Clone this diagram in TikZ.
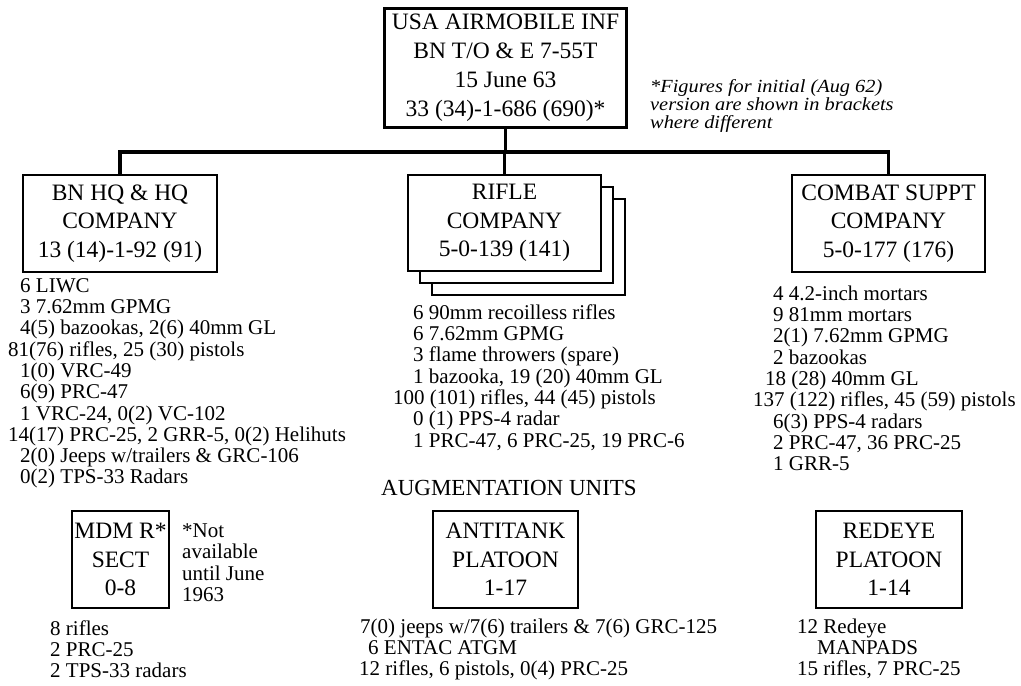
\documentclass[tikz,border=0pt]{standalone}
\usepackage{graphicx}
\usepackage{fontspec}
\setmainfont{Liberation Serif}
\begin{document}
\begin{tikzpicture}[x=1pt,y=-1pt,
  box/.style={draw, line width=2.6pt, inner sep=0pt, align=center, fill=white,
    font=\fontsize{23.5}{28.5}\selectfont},
  conn/.style={line width=3.6pt},
  list/.style={anchor=north west, inner sep=0pt, align=left,
    font=\fontsize{21}{21.3}\selectfont},
]
\useasboundingbox (0,0) rectangle (1021,686);

% top box
\node[box, minimum width=242pt, minimum height=119pt,
  font=\fontsize{23.5}{29}\selectfont] (top) at (505.5,68)
  {USA AIRMOBILE INF\\BN T/O \& E 7-55T\\15 June 63\\33 (34)-1-686 (690)*};

\node[anchor=north west, inner sep=0pt, align=left,
  font=\fontsize{18.5}{18}\selectfont\itshape] (note) at (650,79)
  {\rule{0pt}{13pt}\scalebox{1.1}[1]{*Figures for initial (Aug 62)}\\
   \scalebox{1.1}[1]{version are shown in brackets}\\
   \scalebox{1.1}[1]{where different}};

% companies
\node[box, minimum width=194pt, minimum height=97pt] (hq) at (120,223.5)
  {BN HQ \& HQ\\COMPANY\\13 (14)-1-92 (91)};
\node[box, minimum width=193pt, minimum height=96pt] (rifle3) at (528.5,247) {};
\node[box, minimum width=193pt, minimum height=96pt] (rifle2) at (516.5,235) {};
\node[box, minimum width=193pt, minimum height=96pt] (rifle) at (504.5,223)
  {RIFLE\\COMPANY\\5-0-139 (141)};
\node[box, minimum width=193pt, minimum height=97pt] (cs) at (888.5,223.5)
  {COMBAT SUPPT\\COMPANY\\5-0-177 (176)};

% connectors
\coordinate (bus) at (504.5,152);
\draw[conn] (top.south) -- (top.south |- bus);
\draw[conn] (hq.north) |- (bus) -| (cs.north);
\draw[conn] (bus) -- (rifle.north);

% lists
\node[list] (hqlist) at (8,277)
  {\rule{0pt}{15pt}\hspace*{12pt}6 LIWC\\
   \hspace*{12pt}3 7.62mm GPMG\\
   \hspace*{12pt}4(5) bazookas, 2(6) 40mm GL\\
   81(76) rifles, 25 (30) pistols\\
   \hspace*{12pt}1(0) VRC-49\\
   \hspace*{12pt}6(9) PRC-47\\
   \hspace*{12pt}1 VRC-24, 0(2) VC-102\\
   14(17) PRC-25, 2 GRR-5, 0(2) Helihuts\\
   \hspace*{12pt}2(0) Jeeps w/trailers \& GRC-106\\
   \hspace*{12pt}0(2) TPS-33 Radars};

\node[list] (riflelist) at (393,304)
  {\rule{0pt}{15pt}\hspace*{20pt}6 90mm recoilless rifles\\
   \hspace*{20pt}6 7.62mm GPMG\\
   \hspace*{20pt}3 flame throwers (spare)\\
   \hspace*{20pt}1 bazooka, 19 (20) 40mm GL\\
   100 (101) rifles, 44 (45) pistols\\
   \hspace*{20pt}0 (1) PPS-4 radar\\
   \hspace*{20pt}1 PRC-47, 6 PRC-25, 19 PRC-6};

\node[list] (cslist) at (753,285)
  {\rule{0pt}{15pt}\hspace*{20pt}4 4.2-inch mortars\\
   \hspace*{20pt}9 81mm mortars\\
   \hspace*{20pt}2(1) 7.62mm GPMG\\
   \hspace*{20pt}2 bazookas\\
   \hspace*{12pt}18 (28) 40mm GL\\
   137 (122) rifles, 45 (59) pistols\\
   \hspace*{20pt}6(3) PPS-4 radars\\
   \hspace*{20pt}2 PRC-47, 36 PRC-25\\
   \hspace*{20pt}1 GRR-5};

% augmentation
\node[anchor=base, inner sep=0pt, font=\fontsize{23}{27}\selectfont] (aug) at (509,495)
  {AUGMENTATION UNITS};

\node[box, minimum width=97pt, minimum height=97pt] (mdm) at (120.5,559.5)
  {MDM R*\\SECT\\0-8};
\node[list, font=\fontsize{21}{21.5}\selectfont] (mdmnote) at (182,522)
  {\rule{0pt}{15pt}*Not\\available\\until June\\1963};
\node[box, minimum width=145pt, minimum height=97pt] (at) at (505.5,559.5)
  {ANTITANK\\PLATOON\\1-17};
\node[box, minimum width=146pt, minimum height=97pt] (red) at (889,559.5)
  {REDEYE\\PLATOON\\1-14};

\node[list] (mdmlist) at (50,620)
  {\rule{0pt}{15pt}8 rifles\\2 PRC-25\\2 TPS-33 radars};
\node[list, font=\fontsize{21}{21}\selectfont] (atlist) at (359,618)
  {\rule{0pt}{15pt}\hspace*{1pt}7(0) jeeps w/7(6) trailers \& 7(6) GRC-125\\
   \hspace*{9pt}6 ENTAC ATGM\\
   12 rifles, 6 pistols, 0(4) PRC-25};
\node[list, font=\fontsize{21}{21}\selectfont] (redlist) at (797,618)
  {\rule{0pt}{15pt}12 Redeye\\
   \hspace*{20pt}MANPADS\\
   15 rifles, 7 PRC-25};
\end{tikzpicture}
\end{document}
